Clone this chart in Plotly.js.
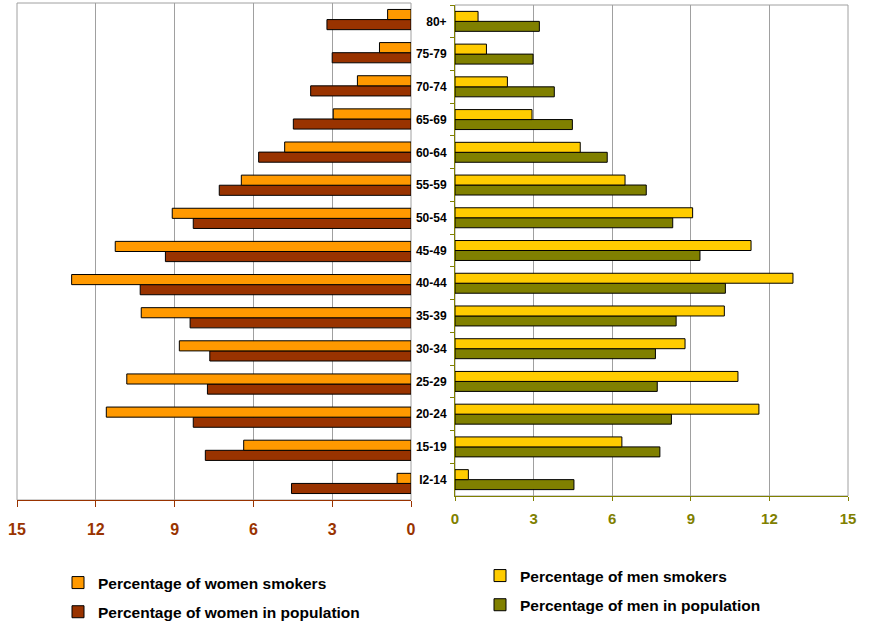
<!DOCTYPE html>
<html>
<head>
<meta charset="utf-8">
<script src="https://cdn.plot.ly/plotly-3.0.1.min.js"></script>
<style>html,body{margin:0;padding:0;background:#fff;}#chart{width:869px;height:623px;}</style>
</head>
<body>
<div id="chart"></div>
<script>
// Age groups, bottom to top
const ageGroups = ['I2-14','15-19','20-24','25-29','30-34','35-39','40-44','45-49','50-54','55-59','60-64','65-69','70-74','75-79','80+'];
const womenSmokers = [0.53, 6.37, 11.6, 10.82, 8.82, 10.27, 12.92, 11.26, 9.09, 6.46, 4.81, 2.96, 2.04, 1.2, 0.89];
const womenPopulation = [4.55, 7.83, 8.29, 7.75, 7.66, 8.41, 10.31, 9.35, 8.29, 7.3, 5.8, 4.48, 3.82, 3.0, 3.2];
const menSmokers = [0.51, 6.37, 11.6, 10.8, 8.78, 10.28, 12.9, 11.3, 9.07, 6.49, 4.78, 2.94, 2.0, 1.2, 0.88];
const menPopulation = [4.54, 7.82, 8.26, 7.72, 7.65, 8.44, 10.32, 9.35, 8.31, 7.3, 5.81, 4.48, 3.79, 2.98, 3.22];
const xTicks = [0, 3, 6, 9, 12, 15];

const FONT = 'Liberation Sans, Arial, sans-serif';
const W = 869, H = 623;
const px = v => v / W;
const py = v => 1 - v / H;

const barLine = {color: '#000000', width: 1};

const traces = [
  {type: 'bar', orientation: 'h', y: ageGroups, x: womenPopulation, name: 'Percentage of women in population',
   marker: {color: '#993300', line: barLine}, xaxis: 'x', yaxis: 'y', legend: 'legend', legendgroup: 'wp', legendrank: 2, hoverinfo: 'x+y'},
  {type: 'bar', orientation: 'h', y: ageGroups, x: womenSmokers, name: 'Percentage of women smokers',
   marker: {color: '#FF9900', line: barLine}, xaxis: 'x', yaxis: 'y', legend: 'legend', legendgroup: 'ws', legendrank: 1, hoverinfo: 'x+y'},
  {type: 'bar', orientation: 'h', y: ageGroups, x: menPopulation, name: 'Percentage of men in population',
   marker: {color: '#808000', line: barLine}, xaxis: 'x2', yaxis: 'y2', legend: 'legend2', legendgroup: 'mp', legendrank: 2, hoverinfo: 'x+y'},
  {type: 'bar', orientation: 'h', y: ageGroups, x: menSmokers, name: 'Percentage of men smokers',
   marker: {color: '#FFCC00', line: barLine}, xaxis: 'x2', yaxis: 'y2', legend: 'legend2', legendgroup: 'ms', legendrank: 1, hoverinfo: 'x+y'}
];

const xCommon = {
  tickmode: 'array', tickvals: xTicks, ticktext: xTicks.map(String),
  showgrid: true, gridcolor: '#A0A0A0', gridwidth: 1, zeroline: false,
  showline: true, linewidth: 1, ticks: 'outside', automargin: false, fixedrange: true
};

const layout = {
  width: W, height: H,
  margin: {l: 0, r: 0, t: 0, b: 0, autoexpand: false},
  paper_bgcolor: '#ffffff', plot_bgcolor: '#ffffff',
  barmode: 'group', bargap: 0.39, bargroupgap: 0,
  font: {family: FONT, size: 12, color: '#000'},
  xaxis: Object.assign({}, xCommon, {
    anchor: 'y', domain: [px(17), px(411)], range: [15, 0],
    linecolor: '#993300', tickcolor: '#993300', ticklen: 6, ticklabelstandoff: 9,
    tickfont: {family: FONT, size: 16, color: '#993300', weight: 'bold'}
  }),
  xaxis2: Object.assign({}, xCommon, {
    anchor: 'y2', domain: [px(455), px(848)], range: [0, 15],
    linecolor: '#808000', tickcolor: '#808000', ticklen: 4, ticklabelstandoff: 5,
    tickfont: {family: FONT, size: 15, color: '#808000', weight: 'bold'}
  }),
  yaxis: {
    anchor: 'x', domain: [py(500), py(3)], type: 'category',
    categoryorder: 'array', categoryarray: ageGroups,
    showticklabels: false, ticks: '', showgrid: false, zeroline: false, showline: false,
    automargin: false, fixedrange: true
  },
  yaxis2: {
    anchor: 'x2', domain: [py(496), py(5)], type: 'category',
    categoryorder: 'array', categoryarray: ageGroups,
    showgrid: false, zeroline: false, showline: true, linecolor: '#808000', linewidth: 1,
    ticks: 'outside', tickson: 'boundaries', ticklen: 4, tickcolor: '#808000', ticklabelstandoff: 5,
    tickfont: {family: FONT, size: 12, color: '#000', weight: 'bold'},
    automargin: false, fixedrange: true
  },
  shapes: [
    {type: 'rect', xref: 'x domain', yref: 'y domain', x0: 0, x1: 1, y0: 0, y1: 1,
     line: {color: '#A0A0A0', width: 1}, layer: 'below'},
    {type: 'rect', xref: 'x2 domain', yref: 'y2 domain', x0: 0, x1: 1, y0: 0, y1: 1,
     line: {color: '#A0A0A0', width: 1}, layer: 'below'}
  ],
  showlegend: true,
  legend: {
    x: px(58), xanchor: 'left', y: py(566), yanchor: 'top',
    bgcolor: 'rgba(0,0,0,0)', borderwidth: 0, traceorder: 'grouped', tracegroupgap: 6,
    font: {family: FONT, size: 15.5, color: '#000', weight: 'bold'}
  },
  legend2: {
    x: px(480), xanchor: 'left', y: py(559), yanchor: 'top',
    bgcolor: 'rgba(0,0,0,0)', borderwidth: 0, traceorder: 'grouped', tracegroupgap: 6,
    font: {family: FONT, size: 15.5, color: '#000', weight: 'bold'}
  }
};

Plotly.newPlot('chart', traces, layout, {displayModeBar: false, staticPlot: true});
</script>
</body>
</html>
